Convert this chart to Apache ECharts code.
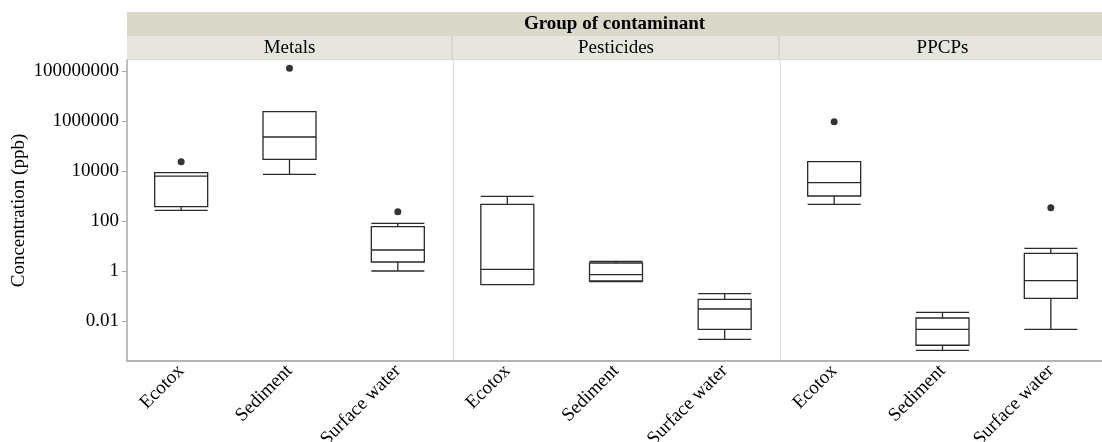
<!DOCTYPE html>
<html>
<head>
<meta charset="utf-8">
<script src="https://cdn.jsdelivr.net/npm/echarts@6/dist/echarts.min.js"></script>
<style>
html,body{margin:0;padding:0;background:#fff;}
#chart{width:1102px;height:442px;}
</style>
</head>
<body>
<div id="chart"></div>
<script>
// ---- data ----
const categories = ['Ecotox', 'Sediment', 'Surface water'];
const groups = ['Metals', 'Pesticides', 'PPCPs'];
const yTicks = [0.01, 1, 100, 10000, 1000000, 100000000];

// [lower whisker, Q1, median, Q3, upper whisker]
const metalsBox = [
  [275, 384, 6470, 8790, 8790],
  [7590, 30200, 235000, 2420000, 2420000],
  [1.03, 2.36, 7.11, 60.8, 83.2]
];
const metalsOutliers = [[0, 24200], [1, 132000000], [2, 242]];

const pesticidesBox = [
  [0.291, 0.291, 1.2, 479, 1000],
  [0.384, 0.409, 0.731, 2.15, 2.51],
  [0.0019, 0.00479, 0.031, 0.0759, 0.127]
];
const pesticidesOutliers = [];

const ppcpsBox = [
  [479, 1028, 3500, 24200, 24200],
  [0.00069, 0.0011, 0.00479, 0.01355, 0.0229],
  [0.00479, 0.0832, 0.42, 5.25, 8.32]
];
const ppcpsOutliers = [[0, 964000], [2, 350]];

const boxSets = [metalsBox, pesticidesBox, ppcpsBox];
const outlierSets = [metalsOutliers, pesticidesOutliers, ppcpsOutliers];

// ---- layout ----
const FONT = '"Liberation Serif", "Times New Roman", serif';
const yMin = Math.pow(10, -3.588);
const yMax = Math.pow(10, 8.452);
const gridLefts = [127, 453, 780];
const gridWidths = [325, 326, 325];

const grids = gridLefts.map((l, i) => ({
  left: l, width: gridWidths[i], top: 60, height: 301,
  containLabel: false, outerBoundsMode: 'none'
}));

const xAxes = groups.map((g, i) => ({
  type: 'category',
  gridIndex: i,
  data: categories,
  axisLine: {show: true, lineStyle: {color: '#b4b4b4', width: 2}},
  axisTick: {show: false},
  axisLabel: {rotate: 45, margin: 7, fontFamily: FONT, fontSize: 19, color: '#000', interval: 0},
  splitLine: {show: false}
}));

const yAxes = groups.map((g, i) => ({
  type: 'log',
  logBase: 10,
  gridIndex: i,
  min: yMin,
  max: yMax,
  name: i === 0 ? 'Concentration (ppb)' : '',
  nameLocation: 'middle',
  nameGap: 98,
  nameTextStyle: {fontFamily: FONT, fontSize: 19, color: '#000'},
  axisLine: {show: true, lineStyle: {color: i === 0 ? '#a8a8a8' : '#dedede', width: i === 0 ? 1.5 : 1}},
  axisTick: {show: i === 0, length: 5, lineStyle: {color: '#a8a8a8'}, customValues: yTicks},
  axisLabel: {
    show: i === 0, margin: 8, fontFamily: FONT, fontSize: 19, color: '#000',
    customValues: yTicks,
    formatter: v => String(v)
  },
  splitLine: {show: false}
}));

const series = [];
boxSets.forEach((b, i) => {
  series.push({
    type: 'boxplot',
    xAxisIndex: i,
    yAxisIndex: i,
    data: b,
    boxWidth: [53, 53],
    itemStyle: {color: 'rgba(255,255,255,0)', borderColor: '#2a2a2a', borderWidth: 1.3},
    emphasis: {disabled: true}
  });
  series.push({
    type: 'scatter',
    xAxisIndex: i,
    yAxisIndex: i,
    data: outlierSets[i],
    symbol: 'circle',
    symbolSize: 7,
    itemStyle: {color: '#000'},
    emphasis: {disabled: true}
  });
});

const graphic = [
  {type: 'rect', shape: {x: 127, y: 12, width: 975, height: 24}, style: {fill: '#dad8c9'}, silent: true},
  {type: 'rect', shape: {x: 127, y: 36, width: 975, height: 24}, style: {fill: '#e7e6de'}, silent: true},
  {type: 'rect', shape: {x: 127, y: 59, width: 975, height: 1}, style: {fill: '#dcdacb'}, silent: true},
  {type: 'rect', shape: {x: 451, y: 36, width: 2, height: 24}, style: {fill: '#d9d8cc'}, silent: true},
  {type: 'rect', shape: {x: 778, y: 36, width: 2, height: 24}, style: {fill: '#d9d8cc'}, silent: true},
  {type: 'text', x: 614.5, y: 24, style: {text: 'Group of contaminant', font: 'bold 19px ' + FONT, fill: '#000', align: 'center', verticalAlign: 'middle'}, silent: true}
];
groups.forEach((g, i) => {
  graphic.push({type: 'text', x: gridLefts[i] + gridWidths[i] / 2, y: 48, style: {text: g, font: '19px ' + FONT, fill: '#000', align: 'center', verticalAlign: 'middle'}, silent: true});
});

const chart = echarts.init(document.getElementById('chart'), null, {renderer: 'canvas'});
chart.setOption({
  animation: false,
  backgroundColor: '#fff',
  grid: grids,
  xAxis: xAxes,
  yAxis: yAxes,
  series: series,
  graphic: graphic
});
</script>
</body>
</html>
